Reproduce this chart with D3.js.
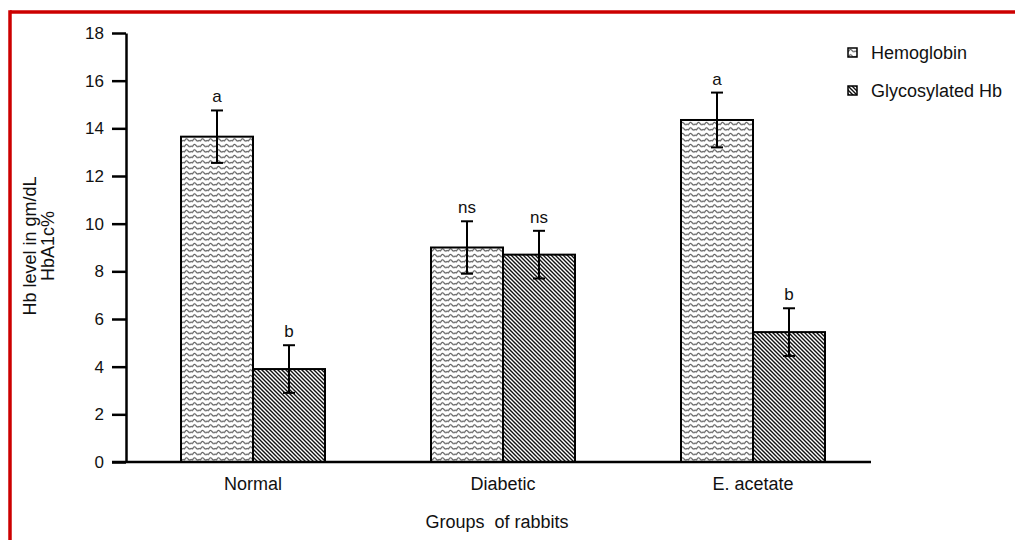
<!DOCTYPE html>
<html>
<head>
<meta charset="utf-8">
<script src="https://cdn.jsdelivr.net/npm/d3@7"></script>
<style>
  html, body { margin: 0; padding: 0; background: #fff; }
  svg { display: block; font-family: "Liberation Sans", Arial, sans-serif; }
</style>
</head>
<body>
<svg id="chart" width="1015" height="540"></svg>
<script>
// Hb level per rabbit group (mean ± SE)
const groups = ["Normal", "Diabetic", "E. acetate"];
const series = ["Hemoglobin", "Glycosylated Hb"];
const hemoglobin = [13.65, 9.0, 14.35];
const hemoglobinErr = [1.1, 1.1, 1.15];
const glycosylated = [3.9, 8.7, 5.45];
const glycosylatedErr = [1.0, 1.0, 1.0];
const hemoglobinSig = ["a", "ns", "a"];
const glycosylatedSig = ["b", "ns", "b"];
const yTicks = [0, 2, 4, 6, 8, 10, 12, 14, 16, 18];

const rows = [];
groups.forEach((g, i) => {
  rows.push({ group: g, series: series[0], value: hemoglobin[i], err: hemoglobinErr[i], sig: hemoglobinSig[i] });
  rows.push({ group: g, series: series[1], value: glycosylated[i], err: glycosylatedErr[i], sig: glycosylatedSig[i] });
});

const svg = d3.select("#chart");

// Fill patterns: wavy lines for hemoglobin, diagonal hatching for HbA1c
const defs = svg.append("defs");
const wave = defs.append("pattern")
  .attr("id", "wave").attr("patternUnits", "userSpaceOnUse")
  .attr("width", 8).attr("height", 5.5);
wave.append("rect").attr("width", 8).attr("height", 5.5).attr("fill", "#fff");
wave.append("path")
  .attr("d", "M0,3.8 Q2,-0.2 4,2.2 T8,3.8")
  .attr("d", "M0,3.6 C1,3.6 1.4,1.2 2.5,1.2 C3.6,1.2 4.4,3.6 5.5,3.6 C6.6,3.6 7,2.4 8,3.6")
  .attr("fill", "none").attr("stroke", "#505050").attr("stroke-width", 1.1);

const hatch = defs.append("pattern")
  .attr("id", "hatch").attr("patternUnits", "userSpaceOnUse")
  .attr("width", 4).attr("height", 4);
hatch.append("rect").attr("width", 4).attr("height", 4).attr("fill", "#fff");
hatch.append("path")
  .attr("d", "M-1,-1 L5,5 M-1,3 L1,5 M3,-1 L5,1")
  .attr("stroke", "#111").attr("stroke-width", 1.4);

const fillFor = { "Hemoglobin": "url(#wave)", "Glycosylated Hb": "url(#hatch)" };

// Frame lines
svg.append("line").attr("x1", 10).attr("x2", 1015).attr("y1", 12).attr("y2", 12)
  .attr("stroke", "#cc0000").attr("stroke-width", 3.5);
svg.append("line").attr("x1", 10).attr("x2", 10).attr("y1", 10.3).attr("y2", 540)
  .attr("stroke", "#cc0000").attr("stroke-width", 3.5);

// Scales
const y = d3.scaleLinear().domain([0, 18]).range([462, 33]);
const x0 = d3.scaleBand().domain(groups).range([128, 878]);
const x1 = d3.scaleBand().domain(series).range([-72, 72]);
const barX = d => x0(d.group) + x0.bandwidth() / 2 + x1(d.series);

// Bars
svg.append("g").selectAll("rect").data(rows).join("rect")
  .attr("x", barX)
  .attr("y", d => y(d.value))
  .attr("width", x1.bandwidth())
  .attr("height", d => y(0) - y(d.value))
  .attr("fill", d => fillFor[d.series])
  .attr("stroke", "#000").attr("stroke-width", 2);

// Error bars
const eb = svg.append("g").attr("stroke", "#000").attr("stroke-width", 2);
rows.forEach(d => {
  const cx = barX(d) + x1.bandwidth() / 2;
  const t = y(d.value + d.err), b = y(d.value - d.err);
  eb.append("line").attr("x1", cx).attr("x2", cx).attr("y1", t).attr("y2", b);
  eb.append("line").attr("x1", cx - 6).attr("x2", cx + 6).attr("y1", t).attr("y2", t);
  eb.append("line").attr("x1", cx - 6).attr("x2", cx + 6).attr("y1", b).attr("y2", b);
});

// Significance letters
svg.append("g").selectAll("text").data(rows).join("text")
  .attr("x", d => barX(d) + x1.bandwidth() / 2)
  .attr("y", d => y(d.value + d.err) - 8)
  .attr("text-anchor", "middle")
  .attr("font-size", 17).attr("fill", "#111")
  .text(d => d.sig);

// Y axis
const yAxis = svg.append("g").attr("transform", "translate(126,0)")
  .call(d3.axisLeft(y).tickValues(yTicks).tickSize(14).tickPadding(8).tickSizeOuter(0));
yAxis.select(".domain").attr("stroke-width", 2.5);
yAxis.selectAll(".tick line").attr("stroke-width", 2.5);
yAxis.selectAll(".tick text").attr("font-size", 17).attr("fill", "#111")
  .attr("font-family", "Liberation Sans, Arial, sans-serif");

// X axis baseline and category labels
svg.append("line").attr("x1", 112).attr("x2", 871).attr("y1", y(0)).attr("y2", y(0))
  .attr("stroke", "#000").attr("stroke-width", 2.5);
svg.append("g").selectAll("text").data(groups).join("text")
  .attr("x", d => x0(d) + x0.bandwidth() / 2)
  .attr("y", 490)
  .attr("text-anchor", "middle")
  .attr("font-size", 18).attr("fill", "#111")
  .text(d => d);

// Axis titles
svg.append("text").attr("x", 497).attr("y", 528).attr("text-anchor", "middle")
  .attr("font-size", 18).attr("fill", "#111").attr("xml:space", "preserve")
  .text("Groups  of rabbits");
const yTitle = svg.append("text")
  .attr("transform", "translate(0,246) rotate(-90)")
  .attr("text-anchor", "middle").attr("font-size", 18).attr("fill", "#111");
yTitle.append("tspan").attr("x", 0).attr("y", 36).text("Hb level in gm/dL");
yTitle.append("tspan").attr("x", 0).attr("y", 54).text("HbA1c%");

// Legend
const legend = svg.append("g").selectAll("g").data(series).join("g")
  .attr("transform", (d, i) => `translate(848,${48 + i * 38})`);
legend.append("rect").attr("width", 9).attr("height", 9)
  .attr("fill", d => fillFor[d]).attr("stroke", "#000").attr("stroke-width", 1.5);
legend.append("text").attr("x", 23).attr("y", 10.5)
  .attr("font-size", 18).attr("fill", "#111").text(d => d);
</script>
</body>
</html>
